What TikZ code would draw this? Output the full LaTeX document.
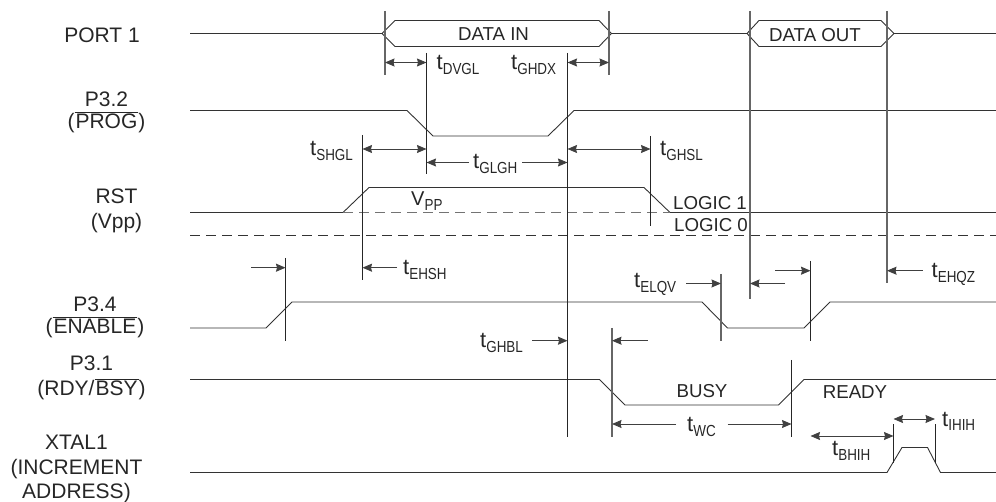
\documentclass[tikz,border=0pt]{standalone}
\usepackage{fontspec}
\setmainfont{Liberation Sans}
\newfontfamily\subfont[FakeStretch=0.84]{Liberation Sans}
\usepackage{tikz}
\usetikzlibrary{arrows.meta}
\tikzset{wave/.style={line width=0.9pt,black!80}}
\tikzset{guide/.style={line width=0.9pt,black!85}}
\tikzset{guideg/.style={line width=1.3pt,black!60}}
\tikzset{dim/.style={line width=0.9pt,black!75,{Stealth[length=9.5pt,width=8pt,inset=1pt]}-{Stealth[length=9.5pt,width=8pt,inset=1pt]}}}
\tikzset{dimr/.style={line width=0.9pt,black!75,-{Stealth[length=9.5pt,width=8pt,inset=1pt]}}}
\tikzset{lab/.style={inner sep=0pt,black!85,align=center,font=\fontsize{21}{24.7}\selectfont}}
\tikzset{mid/.style={inner sep=0pt,black!85,anchor=base,font=\fontsize{18.7}{24}\selectfont}}
\tikzset{tname/.style={inner sep=0pt,black!85,anchor=base west,font=\fontsize{22}{24}\selectfont}}
\newcommand{\low}[1]{\raisebox{-5pt}{\subfont\fontsize{16}{16}\selectfont #1}}
\newcommand{\barred}[1]{\mbox{$\overline{\mbox{\kern1pt #1\kern1pt}}$}}
\begin{document}
\begin{tikzpicture}[x=1pt,y=-1pt]
\useasboundingbox (0,0) rectangle (996,502);
% data bus
\draw[wave] (190,33.5) -- (382,33.5) -- (395,20.5) -- (599,20.5) -- (611.5,33.5) -- (599,46.5) -- (395,46.5) -- (382,33.5);
\draw[wave] (611.5,33.5) -- (747,33.5) -- (759,20.5) -- (881,20.5) -- (894,33.5) -- (881,46.5) -- (759,46.5) -- (747,33.5);
\draw[wave] (894,33.5) -- (996,33.5);
% signals
\draw[wave] (190,110.5) -- (407,110.5) -- (433,136) -- (548,136) -- (574,110.5) -- (996,110.5);
\draw[wave] (190,212.5) -- (343,212.5) -- (369,187.5) -- (644,187.5) -- (670,212.5) -- (996,212.5);
\draw[wave,dash pattern=on 10pt off 6pt,black!55] (343,212.5) -- (670,212.5);
\draw[wave,dash pattern=on 10pt off 6pt] (190,235.5) -- (996,235.5);
\draw[wave] (190,328) -- (266,328) -- (292,302) -- (702,302) -- (727.5,328) -- (804,328) -- (830,302) -- (996,302);
\draw[wave] (190,379.5) -- (599.5,379.5) -- (625,405) -- (778.5,405) -- (804,379.5) -- (996,379.5);
\draw[wave] (190,472.5) -- (887,472.5) -- (902,447.5) -- (927.5,447.5) -- (940.5,472.5) -- (996,472.5);
% timing marks
\foreach \x/\a/\b in {426.5/53/174,567.5/53/437,362.5/135/280,650.5/136/226,285.5/258/341,810.5/261/341,791.5/360/437,893.5/424/463,935/424/463} {
\draw[guide] (\x,\a) -- (\x,\b);
}
\foreach \x/\a/\b in {385/11/75,609/11/75,750/11/299,887/11/283,721/274/341,612/328/437} {
\draw[guideg] (\x,\a) -- (\x,\b);
}
% arrows
\foreach \a/\b/\y in {385/426.5/62.5,567.5/609/62.5,362.5/426.5/149,567.5/650.5/149,810.5/893.5/436,893.5/935/419} {
\draw[dim] (\a,\y) -- (\b,\y);
}
\foreach \a/\b/\y in {469/426.5/162.5,522/567.5/162.5,397/362.5/267.7,251/285.5/267.7,686/721/283.5,785/750/283.5,775/810.5/270.7,922.5/887/270.7,532/567.5/340.7,647.5/612/340.7,676/612/424,727.5/791.5/424} {
\draw[dimr] (\a,\y) -- (\b,\y);
}
% signal names
\node[lab] (port) at (102,35) {PORT 1};
\node[lab] (prog) at (106.5,112.5) {P3.2\\[-3pt](\barred{PROG})};
\node[lab] (rst) at (116.5,210.5) {RST\\(Vpp)};
\node[lab] (enable) at (95,317.5) {P3.4\\[-3pt](\barred{ENABLE})};
\node[lab] (rdy) at (91.5,378) {P3.1\\(RDY/\barred{BSY})};
\node[lab] (xtal) at (76.5,469) {XTAL1\\(INCREMENT\\ADDRESS)};
% labels on the waves
\node[mid] (datain) at (493.5,40.7) {DATA IN};
\node[mid] (dataout) at (815,41.5) {DATA OUT};
\node[tname,font=\fontsize{20}{24}\selectfont] (vpp) at (411,205.5) {V\low{PP}};
\node[mid] (logica) at (710,210) {LOGIC 1};
\node[mid] (logicb) at (711,232) {LOGIC 0};
\node[mid] (busy) at (702,398) {BUSY};
\node[mid] (ready) at (855,399) {READY};
% timing names
\node[tname] (dvgl) at (436.5,70) {t\low{DVGL}};
\node[tname] (ghdx) at (511,70) {t\low{GHDX}};
\node[tname] (shgl) at (310,155.5) {t\low{SHGL}};
\node[tname] (glgh) at (473,168.5) {t\low{GLGH}};
\node[tname] (ghsl) at (660,156) {t\low{GHSL}};
\node[tname] (ehsh) at (403,275) {t\low{EHSH}};
\node[tname] (elqv) at (634,287.5) {t\low{ELQV}};
\node[tname] (ehqz) at (931.5,278) {t\low{EHQZ}};
\node[tname] (ghbl) at (480,348) {t\low{GHBL}};
\node[tname] (wc) at (687,431.5) {t\low{WC}};
\node[tname] (bhih) at (832,455) {t\low{BHIH}};
\node[tname] (ihih) at (942,426) {t\low{IHIH}};
\end{tikzpicture}
\end{document}
